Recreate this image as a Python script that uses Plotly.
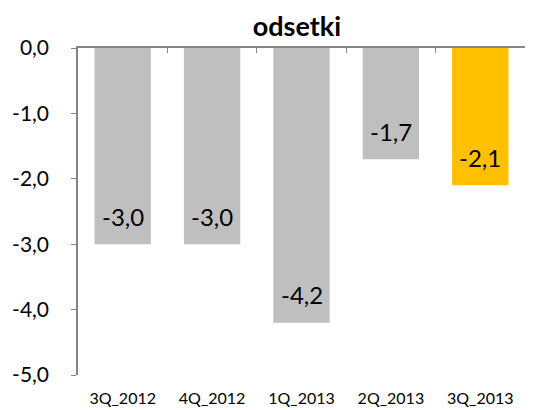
import plotly.graph_objects as go

categories = ["3Q_2012", "4Q_2012", "1Q_2013", "2Q_2013", "3Q_2013"]
values = [-3.0, -3.0, -4.2, -1.7, -2.1]
bar_colors = ["#BFBFBF", "#BFBFBF", "#BFBFBF", "#BFBFBF", "#FFC000"]
y_ticks = [0, -1, -2, -3, -4, -5]


def fmt(v):
    return f"{v:.1f}".replace(".", ",")


FONT = "Lato, 'Liberation Sans', sans-serif"

fig = go.Figure()
fig.add_trace(go.Bar(
    x=categories, y=values, marker_color=bar_colors, marker_line_width=0,
    cliponaxis=False, hoverinfo="skip",
))
fig.add_trace(go.Scatter(x=[0, len(categories)], y=[0, 0], xaxis="x2", mode="lines",
                         line=dict(width=0), showlegend=False, hoverinfo="skip"))

for c, v in zip(categories, values):
    fig.add_annotation(x=c, y=v, xref="x", yref="y", text=fmt(v), showarrow=False,
                       yanchor="middle", yshift=28,
                       font=dict(family=FONT, size=24, color="black"))

fig.update_layout(
    width=532, height=402,
    margin=dict(l=70, r=15, t=40, b=35, autoexpand=False),
    paper_bgcolor="white", plot_bgcolor="white",
    showlegend=False,
    bargap=0.37,
    title=dict(text="<b>odsetki</b>", x=0.543, xanchor="center", y=0.953, yanchor="middle",
               font=dict(family=FONT, size=27, color="black")),
    xaxis=dict(type="category", showline=False, ticks="", showgrid=False, automargin=False,
               tickfont=dict(family=FONT, size=16, color="black"),
               ticklabelstandoff=12),
    xaxis2=dict(overlaying="x", side="top", anchor="y", range=[0, len(categories)],
                tickvals=list(range(len(categories) + 1)), ticks="inside", ticklen=5,
                tickcolor="#868686", showline=True, linecolor="#868686", linewidth=1.5,
                showticklabels=False, showgrid=False, zeroline=False, automargin=False),
    yaxis=dict(range=[-5, 0], tickvals=y_ticks, ticktext=[fmt(v) for v in y_ticks],
               showline=True, automargin=False,
               linecolor="#868686", linewidth=1.5, ticks="outside", ticklen=5,
               tickcolor="#868686", showgrid=False, zeroline=False,
               tickfont=dict(family=FONT, size=21, color="black"),
               ticklabelstandoff=18),
)

fig.write_html("out.html")
